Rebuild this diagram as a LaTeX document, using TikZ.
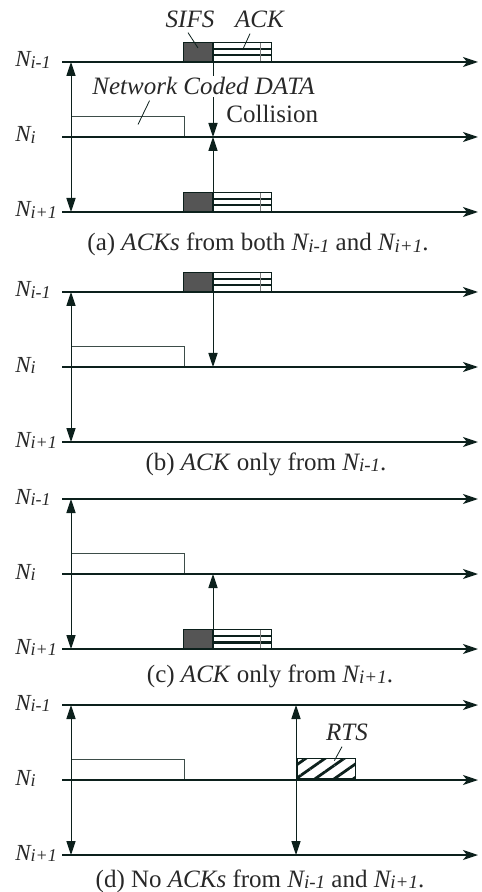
\documentclass[tikz,border=0pt]{standalone}
\usepackage{fontspec}
\setmainfont{Liberation Serif}
\usetikzlibrary{arrows.meta, patterns.meta}

\definecolor{ink}{RGB}{12,32,28}
\definecolor{txt}{RGB}{40,40,40}
\definecolor{sifsgray}{RGB}{85,85,85}

\newcommand{\nlab}[1]{{\fontsize{11.5}{13}\selectfont\itshape N\raisebox{-0.15ex}{\fontsize{9}{10}\selectfont #1}}}
\newcommand{\ncap}[1]{\textit{N\raisebox{-0.15ex}{\fontsize{9.5}{10}\selectfont #1}}}

\begin{document}
\begin{tikzpicture}[
  x=0.5pt, y=-0.5pt, font=\fontsize{12.5}{14}\selectfont, text=txt,
  tline/.style={ink, line width=1pt, -{Stealth[length=7.5pt,width=5pt,inset=2pt]}},
  sig/.style={ink, line width=0.5pt, -{Triangle[length=7pt,width=4.6pt]}},
  sigboth/.style={ink, line width=0.5pt, {Triangle[length=7pt,width=4.6pt]}-{Triangle[length=7pt,width=4.6pt]}},
  databox/.style={draw=ink!80, line width=0.5pt, fill=white, minimum width=56.5pt, minimum height=10pt, inner sep=0pt, anchor=south west},
  sifsbox/.style={draw=ink, line width=0.5pt, fill=sifsgray, minimum width=14.5pt, minimum height=9.5pt, inner sep=0pt, anchor=south east},
  ackbox/.style={draw=ink, line width=0.6pt, fill=white, minimum width=29pt, minimum height=9.5pt, inner sep=0pt, anchor=south west,
    path picture={
      \draw[ink, line width=1.3pt] ([yshift=-3.3pt]path picture bounding box.north west) -- ([yshift=-3.3pt]path picture bounding box.north east);
      \draw[ink, line width=1.3pt] ([yshift=3.1pt]path picture bounding box.south west) -- ([yshift=3.1pt]path picture bounding box.south east);
      \draw[gray, line width=0.3pt] ([xshift=-5.5pt]path picture bounding box.north east) -- ([xshift=-5.5pt]path picture bounding box.south east);
    }},
  rtsbox/.style={draw=ink, line width=0.6pt, pattern={Lines[angle=35,distance=5.5pt,line width=1.4pt]}, pattern color=ink, minimum width=29pt, minimum height=10pt, inner sep=0pt, anchor=south west},
  lbl/.style={anchor=base west, inner sep=0pt},
  lead/.style={ink, line width=0.4pt},
  caption/.style={anchor=base, inner sep=0pt}
]
  \useasboundingbox (0,0) rectangle (481,892);

  % Time axes of the four cases
  \foreach \p/\y in {a/62, b/292, c/499, d/705} {
    \coordinate (\p1s) at (62,\y);
    \coordinate (\p1e) at (478,\y);
    \coordinate (\p2s) at (62,\y+75);
    \coordinate (\p2e) at (478,\y+75);
    \coordinate (\p3s) at (62,\y+150);
    \coordinate (\p3e) at (478,\y+150);
    \coordinate (\p1v) at (71,\y);
    \coordinate (\p2d) at (71,\y+75);
    \coordinate (\p3v) at (71,\y+150);
    \node[lbl] (\p1l) at (15,\y+5) {\nlab{i-1}};
    \node[lbl] (\p2l) at (15,\y+80) {\nlab{i}};
    \node[lbl] (\p3l) at (15,\y+155) {\nlab{i+1}};
    \node[databox] (\p2data) at (\p2d) {};
  }

  % (a) ACKs from both neighbours
  \node[sifsbox] (a1sifs) at (213,62) {};
  \node[ackbox] (a1ack) at (213,62) {};
  \node[sifsbox] (a3sifs) at (213,212) {};
  \node[ackbox] (a3ack) at (213,212) {};
  \coordinate (a2x) at (213,137);
  \draw[sig] (a1ack.south west) -- (a2x);
  \draw[sig] (a3ack.south west) -- (a2x);
  \node[lbl, anchor=base] (lsifs) at (190,28) {\textit{SIFS}};
  \node[lbl, anchor=base] (lack) at (260,28) {\textit{ACK}};
  \draw[lead] ([xshift=-1pt,yshift=-2pt]lsifs.south) -- ([yshift=2pt]a1sifs.center);
  \draw[lead] ([xshift=-5pt,yshift=-2.5pt]lack.south) -- ([yshift=1pt]a1ack.center);
  \node[lbl, fill=white, inner sep=1pt] (ldata) at (90,95) {\textit{Network Coded DATA}};
  \draw[lead] ([xshift=-27pt,yshift=-1.5pt]ldata.south) -- ([xshift=5pt,yshift=1pt]a2data.center);
  \node[lbl] (lcoll) at (226,123) {Collision};
  \node[caption] (capa) at (258,251) {(a) \textit{ACKs} from both \ncap{i-1} and \ncap{i+1}.};

  % (b) ACK only from N_{i-1}
  \node[sifsbox] (b1sifs) at (213,292) {};
  \node[ackbox] (b1ack) at (213,292) {};
  \coordinate (b2x) at (213,367);
  \draw[sig] (b1ack.south west) -- (b2x);
  \node[caption] (capb) at (266,470) {(b) \textit{ACK} only from \ncap{i-1}.};

  % (c) ACK only from N_{i+1}
  \node[sifsbox] (c3sifs) at (213,649) {};
  \node[ackbox] (c3ack) at (213,649) {};
  \coordinate (c2x) at (213,574);
  \draw[sig] (c3ack.south west) -- (c2x);
  \node[caption] (capc) at (270,682) {(c) \textit{ACK} only from \ncap{i+1}.};

  % (d) no ACK, RTS is sent again
  \node[rtsbox] (d2rts) at (296,780) {};
  \coordinate (d1r) at (296,705);
  \coordinate (d3r) at (296,855);
  \draw[sigboth] (d1r) -- (d3r);
  \node[lbl, anchor=base] (lrts) at (347,740) {\textit{RTS}};
  \draw[lead] ([xshift=-2.5pt,yshift=-3pt]lrts.south) -- ([xshift=4pt,yshift=4pt]d2rts.center);
  \node[caption] (capd) at (260,887) {(d) No \textit{ACKs} from \ncap{i-1} and \ncap{i+1}.};

  % axes on top
  \foreach \p in {a, b, c, d} {
    \draw[sigboth] (\p1v) -- (\p3v);
    \draw[tline] (\p1s) -- (\p1e);
    \draw[tline] (\p2s) -- (\p2e);
    \draw[tline] (\p3s) -- (\p3e);
  }
\end{tikzpicture}
\end{document}
